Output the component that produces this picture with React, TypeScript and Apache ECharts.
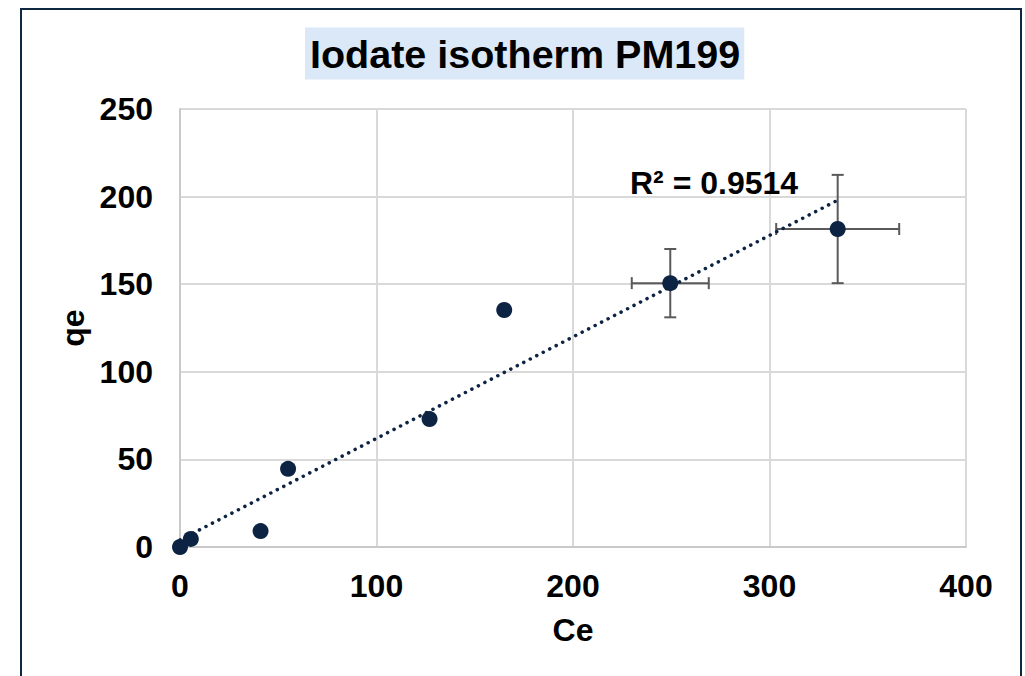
import React, { useEffect, useRef } from "react";
import * as echarts from "echarts";

const titleText = "Iodate isotherm PM199";
const xName = "Ce";
const yName = "qe";
const r2Label = "R² = 0.9514";
const ceValues = [0, 5.5, 41, 55, 127, 165, 249.5, 334.7];
const qeValues = [0, 4.6, 9.1, 44.6, 73, 135.3, 150.6, 181.5];
const ceErrors = [0, 0, 0, 0, 0, 0, 19.6, 31.3];
const qeErrors = [0, 0, 0, 0, 0, 0, 19.5, 30.9];
const xTicks = { min: 0, max: 400, interval: 100 };
const yTicks = { min: 0, max: 250, interval: 50 };

const FONT = "Liberation Sans, Arial, sans-serif";
const NAVY = "#0c2343";

function fitLine(xs: number[], ys: number[]) {
  const n = xs.length;
  const mx = xs.reduce((a, b) => a + b, 0) / n;
  const my = ys.reduce((a, b) => a + b, 0) / n;
  let sxy = 0, sxx = 0;
  for (let i = 0; i < n; i++) {
    sxy += (xs[i] - mx) * (ys[i] - my);
    sxx += (xs[i] - mx) * (xs[i] - mx);
  }
  const slope = sxy / sxx;
  return { slope, intercept: my - slope * mx };
}

export default function App() {
  const ref = useRef<HTMLDivElement>(null);
  useEffect(() => {
    if (!ref.current) return;
    const chart = echarts.init(ref.current, null, { renderer: "svg" });
    const pts = ceValues.map((x, i) => [x, qeValues[i]]);
    const errPts = ceValues
      .map((x, i) => [x, qeValues[i], ceErrors[i], qeErrors[i]])
      .filter((d) => d[2] > 0 || d[3] > 0);
    const { slope, intercept } = fitLine(ceValues, qeValues);
    const xMin = Math.min(...ceValues);
    const xMax = Math.max(...ceValues);
    const trend = [
      [xMin, slope * xMin + intercept],
      [xMax, slope * xMax + intercept],
    ];
    const lbl = { fontFamily: FONT, fontSize: 32, fontWeight: "bold", color: "#000" };
    chart.setOption({
      animation: false,
      backgroundColor: "#ffffff",
      title: {
        text: titleText,
        left: 305,
        top: 28,
        padding: [6, 4, 6, 5],
        backgroundColor: "#dae8f8",
        textStyle: {
          fontFamily: FONT,
          fontSize: 39.5,
          fontWeight: "bold",
          color: "#000000",
          lineHeight: 39,
        },
      },
      graphic: [
        {
          type: "rect",
          shape: { x: 21, y: 9, width: 1000, height: 720 },
          style: { fill: "none", stroke: "#0e2841", lineWidth: 2 },
          silent: true,
          z: 100,
        },
        {
          type: "text",
          x: 630,
          y: 183,
          style: {
            text: r2Label,
            fontFamily: FONT,
            fontSize: 32,
            fontWeight: "bold",
            fill: "#000000",
            verticalAlign: "middle",
          },
          z: 50,
        },
      ],
      grid: { left: 180, top: 109, width: 786, height: 438, containLabel: false },
      xAxis: {
        type: "value",
        min: xTicks.min,
        max: xTicks.max,
        interval: xTicks.interval,
        name: xName,
        nameLocation: "middle",
        nameGap: 67,
        nameTextStyle: lbl,
        axisLine: { show: true, lineStyle: { color: "#c9c9c9", width: 2 } },
        axisTick: { show: false },
        axisLabel: { ...lbl, margin: 23 },
        splitLine: { show: true, lineStyle: { color: "#d9d9d9", width: 2 } },
      },
      yAxis: {
        type: "value",
        min: yTicks.min,
        max: yTicks.max,
        interval: yTicks.interval,
        name: yName,
        nameLocation: "middle",
        nameGap: 88,
        nameRotate: 90,
        nameTextStyle: lbl,
        axisLine: { show: true, lineStyle: { color: "#c9c9c9", width: 2 } },
        axisTick: { show: false },
        axisLabel: { ...lbl, margin: 27 },
        splitLine: { show: true, lineStyle: { color: "#d9d9d9", width: 2 } },
      },
      series: [
        {
          type: "custom",
          z: 3,
          data: errPts,
          renderItem: (params: any, api: any) => {
            const x = api.value(0), y = api.value(1), ex = api.value(2), ey = api.value(3);
            const l = api.coord([x - ex, y]);
            const r = api.coord([x + ex, y]);
            const t = api.coord([x, y + ey]);
            const b = api.coord([x, y - ey]);
            const cap = 6;
            const st = { stroke: "#5a5a5a", lineWidth: 2 };
            const mk = (x1: number, y1: number, x2: number, y2: number) => ({
              type: "line",
              shape: { x1, y1, x2, y2 },
              style: st,
            });
            return {
              type: "group",
              children: [
                mk(l[0], l[1], r[0], r[1]),
                mk(l[0], l[1] - cap, l[0], l[1] + cap),
                mk(r[0], r[1] - cap, r[0], r[1] + cap),
                mk(t[0], t[1], b[0], b[1]),
                mk(t[0] - cap, t[1], t[0] + cap, t[1]),
                mk(b[0] - cap, b[1], b[0] + cap, b[1]),
              ],
            };
          },
        },
        {
          type: "scatter",
          z: 4,
          data: pts,
          symbol: "circle",
          symbolSize: 16,
          itemStyle: { color: NAVY, opacity: 1 },
        },
        {
          type: "line",
          z: 5,
          data: trend,
          showSymbol: false,
          symbol: "none",
          lineStyle: { color: NAVY, width: 3.5, type: [0.1, 7.2], cap: "round" },
        },
      ],
    });
    return () => chart.dispose();
  }, []);
  return (
    <div
      ref={ref}
      style={{ position: "fixed", left: 0, top: 0, width: 1025, height: 676 }}
    />
  );
}
